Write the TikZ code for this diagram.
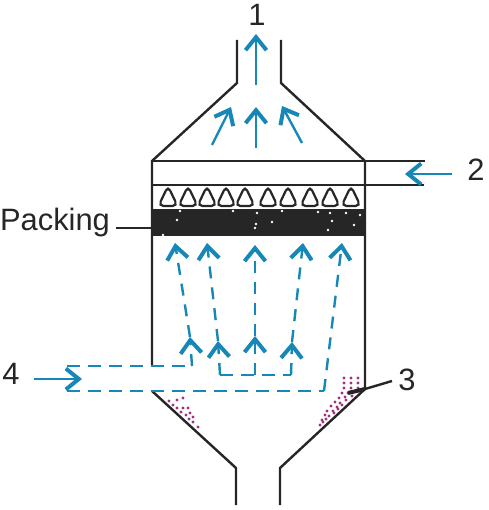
\documentclass[tikz,border=0pt]{standalone}
\usepackage{fontspec}
\setmainfont{Liberation Sans}
\usetikzlibrary{arrows.meta}
\definecolor{flowblue}{HTML}{1787B8}
\definecolor{dustpurple}{HTML}{A02F7E}
\definecolor{inkgrey}{HTML}{262626}
\tikzset{
    wall/.style={draw=inkgrey, line width=2.4bp},
    gas/.style={draw=flowblue, line width=2.4bp, -{Straight Barb[length=13bp,width=21bp,line width=4bp]}},
    gasdash/.style={gas, dash pattern=on 12bp off 9bp},
    duct/.style={draw=flowblue, line width=2.2bp, dash pattern=on 13bp off 8bp},
    droplet/.style={draw=inkgrey, line width=2.2bp, rounded corners=5bp},
    speck/.style={fill=white},
    dust/.style={fill=dustpurple},
    label/.style={inner sep=0pt, text=inkgrey, font=\fontsize{31}{31}\selectfont},
}
\begin{document}
\begin{tikzpicture}[x=1bp, y=-1bp]
                \useasboundingbox (0,0) rectangle (489,510);

                % Labels
                \node[label] (one) at (257,15) {1};
                \node[label] (two) at (476,170) {2};
                \node[label] (three) at (407,380) {3};
                \node[label] (four) at (11,374) {4};
                \node[label] (packing) at (55,223) {Packing};

                % Packing
                \node[fill=inkgrey, inner sep=0pt, minimum width=213bp, minimum height=27bp] (band) at (258.5,222.5) {};
                \foreach \x/\y in {257/213,256/224,272/222,177/220,332/221,328/230,330/213,346/213,180/211,282/211,233/211,318/212,354/225,163/235,255/228,360/215}
                    \fill[speck] (\x,\y) circle (1.4bp);

                % Droplets
                \foreach \x in {168,188,207,226,245,268,288,310,330,351}
                    \draw[droplet] (\x,186) -- (\x+9.5,206) -- (\x-9.5,206) -- cycle;

                % Points
                \coordinate (stackl) at (237,40);
                \coordinate (neckl) at (237,83);
                \coordinate (stackr) at (281,40);
                \coordinate (neckr) at (281,83);
                \coordinate (topl) at (152,161);
                \coordinate (topr) at (365,161);
                \coordinate (sprayl) at (152,185);
                \coordinate (sprayr) at (365,185);
                \coordinate (pipea) at (425,161);
                \coordinate (pipeb) at (424,185);
                \coordinate (wallend) at (152,365);
                \coordinate (wallr) at (365,389);
                \coordinate (hopl) at (152,391);
                \coordinate (hopneckl) at (236,468);
                \coordinate (hopbotl) at (236,505);
                \coordinate (hopneckr) at (280,468);
                \coordinate (hopbotr) at (280,505);
                \coordinate (inleta) at (67,366);
                \coordinate (inletb) at (67,391);
                \coordinate (ductend) at (324,391);
                \coordinate (crossl) at (220,375);
                \coordinate (crossr) at (291,375);
                \coordinate (feeda) at (192,366);
                \coordinate (feedb) at (255,375);
                \coordinate (jeta) at (190,337);
                \coordinate (jetb) at (218,341);
                \coordinate (jetc) at (255,336);
                \coordinate (jetd) at (292,342);
                \coordinate (tipa) at (175,243);
                \coordinate (tipb) at (207,243);
                \coordinate (tipc) at (255,245);
                \coordinate (tipd) at (303,243);
                \coordinate (tipe) at (342,243);
                \coordinate (leadend) at (348,393);
                \coordinate (leadstart) at (392,381);
                \coordinate (leadbend) at (365,389);
                \coordinate (packlead) at (116,228);

                % Walls
                \draw[wall] (stackl) -- (neckl) -- (topl) -- (wallend);
                \draw[wall] (stackr) -- (neckr) -- (topr) -- (wallr) -- (hopneckr) -- (hopbotr);
                \draw[wall] (topl) -- (pipea);
                \draw[wall] (sprayl) -- (pipeb);
                \draw[wall] (hopl) -- (hopneckl) -- (hopbotl);
                \draw[wall] (packlead) -- (band.west |- packlead);

                % Dust
                \foreach \x/\y in {169/401,177/400,183/398,173/405,177/408,183/408,188/408,181/412,186/415,190/413,189/419,193/417,193/422,198/427}
                    \fill[dust] (\x,\y) circle (1.7bp);
                \foreach \x/\y in {344/378,351/378,358/378,344/383,351/383,358/383,344/388,351/388,358/388,342/393,348/393,339/398,345/397,352/396,335/402,340/403,346/400,331/406,337/407,342/405,327/411,333/411,338/409,325/415,329/416,334/413,322/420,326/419,320/425,323/422}
                    \fill[dust] (\x,\y) circle (1.6bp);

                % Leader
                \draw[wall] (leadstart) -- (leadbend);
                \draw[wall, line width=4bp] (leadbend) -- (leadend);

                % Solid flow
                \draw[gas] (256,85) -- (256,34);
                \draw[gas] (212,145) -- (231,107);
                \draw[gas] (256,148) -- (256,107);
                \draw[gas] (302,143) -- (282,106);
                \draw[gas] (452,174) -- (405,174);
                \draw[gas] (34,379) -- (82,379);

                % Dashed ducts
                \draw[duct] (inleta) -- (feeda);
                \draw[duct] (inletb) -- (ductend);
                \draw[duct] (crossl) -- (crossr);

                % Dashed flow
                \draw[gasdash] (feeda) -- (jeta);
                \draw[gasdash] (crossl) -- (jetb);
                \draw[gasdash] (feedb) -- (jetc);
                \draw[gasdash] (crossr) -- (jetd);
                \draw[gasdash] (jeta) -- (tipa);
                \draw[gasdash] (jetb) -- (tipb);
                \draw[gasdash] (jetc) -- (tipc);
                \draw[gasdash] (jetd) -- (tipd);
                \draw[gasdash] (ductend) -- (tipe);
\end{tikzpicture}
\end{document}
